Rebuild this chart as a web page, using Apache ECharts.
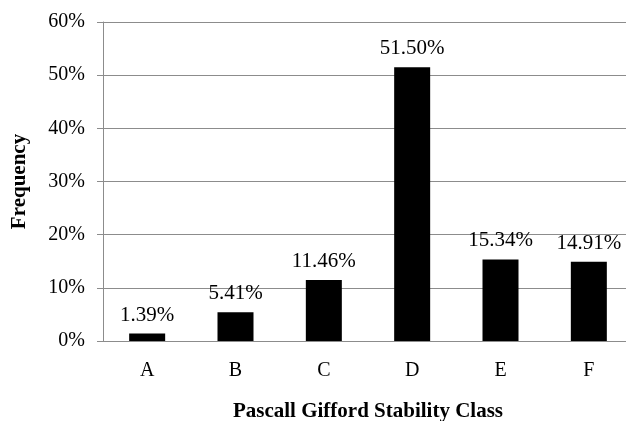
<!DOCTYPE html>
<html>
<head>
<meta charset="utf-8">
<script src="https://cdn.jsdelivr.net/npm/echarts@6/dist/echarts.min.js"></script>
<style>
  html, body { margin: 0; padding: 0; background: #fff; }
  #chart { width: 626px; height: 421px; }
</style>
</head>
<body>
<div id="chart"></div>
<script>
// Stability class frequencies (percent)
const categories = ['A', 'B', 'C', 'D', 'E', 'F'];
const frequency = [1.39, 5.41, 11.46, 51.50, 15.34, 14.91];
const yTicks = [0, 10, 20, 30, 40, 50, 60];

const serif = '"Liberation Serif", "Times New Roman", serif';

const chart = echarts.init(document.getElementById('chart'), null, { renderer: 'canvas' });
chart.setOption({
  animation: false,
  grid: {
    left: 103, top: 22, width: 530, height: 319,
    containLabel: false,
    outerBoundsMode: 'none'
  },
  xAxis: {
    type: 'category',
    data: categories,
    name: 'Pascall Gifford Stability Class',
    nameLocation: 'middle',
    nameGap: 60,
    nameTextStyle: { fontFamily: serif, fontSize: 21, fontWeight: 'bold', color: '#000' },
    axisLine: { lineStyle: { color: '#8c8c8c', width: 1 } },
    axisTick: { show: false },
    axisLabel: { fontFamily: serif, fontSize: 20, color: '#000', margin: 20 }
  },
  yAxis: {
    type: 'value',
    min: yTicks[0],
    max: yTicks[yTicks.length - 1],
    interval: 10,
    name: 'Frequency',
    nameLocation: 'middle',
    nameGap: 73,
    nameTextStyle: { fontFamily: serif, fontSize: 21, fontWeight: 'bold', color: '#000' },
    axisLine: { show: true, lineStyle: { color: '#8c8c8c', width: 1 } },
    axisTick: { show: true, length: 6, lineStyle: { color: '#8c8c8c' } },
    splitLine: { lineStyle: { color: '#8c8c8c', width: 1 } },
    axisLabel: { fontFamily: serif, fontSize: 20, color: '#000', margin: 18, formatter: v => v + '%' }
  },
  series: [{
    type: 'bar',
    data: frequency,
    barWidth: 36,
    itemStyle: { color: '#000' },
    label: {
      show: true,
      position: 'top',
      distance: 8,
      fontFamily: serif,
      fontSize: 21,
      color: '#000',
      formatter: p => p.value.toFixed(2) + '%'
    }
  }]
});
</script>
</body>
</html>
